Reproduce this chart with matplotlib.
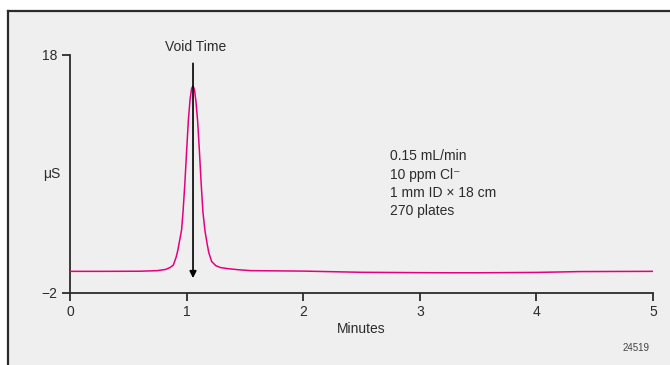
import matplotlib.pyplot as plt
from matplotlib.lines import Line2D
from matplotlib.patches import Rectangle

plt.rcParams['font.family'] = ['Liberation Sans Narrow', 'Liberation Sans', 'DejaVu Sans']

# trace
minutes = [0.00, 0.30, 0.60, 0.75, 0.82, 0.86, 0.886, 0.91, 0.925, 0.94, 0.957,
           0.97, 0.985, 1.00, 1.015, 1.03, 1.043, 1.055, 1.067, 1.08, 1.095,
           1.11, 1.125, 1.14, 1.158, 1.175, 1.19, 1.215, 1.25, 1.29, 1.35,
           1.45, 1.55, 2.00, 2.50, 3.00, 3.25, 3.50, 4.00, 4.37, 4.70, 5.00]
signal = [-0.18, -0.18, -0.17, -0.12, -0.02, 0.15, 0.35, 1.0, 1.6, 2.4, 3.3,
          4.9, 7.2, 9.9, 12.5, 14.3, 15.2, 15.4, 15.1, 14.1, 12.4,
          9.9, 7.2, 4.8, 3.2, 2.2, 1.4, 0.65, 0.3, 0.14, 0.05,
          -0.05, -0.12, -0.16, -0.26, -0.29, -0.30, -0.30, -0.27, -0.20, -0.19, -0.18]

void_time = 1.055
notes = ['0.15 mL/min', '10 ppm Cl\u207b', '1 mm ID \u00d7 18 cm', '270 plates']
x_ticks = [0, 1, 2, 3, 4, 5]
y_ticks = [-2, 18]

dark = '#2b2b2b'
fig = plt.figure(figsize=(6.7, 3.65), dpi=100, facecolor='white')

# grey panel with top/left rule
fig.patches.append(Rectangle((8 / 670, 0), 1, 1 - 11 / 365, transform=fig.transFigure,
                             facecolor='#efefef', edgecolor='none', zorder=-5))
fig.lines.append(Line2D([8 / 670, 1], [1 - 11 / 365] * 2, transform=fig.transFigure,
                        color=dark, lw=1.6, zorder=-4))
fig.lines.append(Line2D([8 / 670] * 2, [0, 1 - 11 / 365], transform=fig.transFigure,
                        color=dark, lw=1.6, zorder=-4))

ax = fig.add_axes([70 / 670, 1 - 293 / 365, 583 / 670, 238 / 365])
ax.set_facecolor('none')
ax.plot(minutes, signal, color='#e6007e', lw=1.1, zorder=3)

ax.set_xlim(0, 5)
ax.set_ylim(-2, 18)
ax.set_xticks(x_ticks)
ax.set_yticks(y_ticks)
ax.set_yticklabels(['\u22122', '18'])
for s in ['top', 'right']:
    ax.spines[s].set_visible(False)
for s in ['left', 'bottom']:
    ax.spines[s].set_color(dark)
    ax.spines[s].set_linewidth(1.3)
ax.tick_params(colors=dark, width=1.3, length=6, labelsize=10, pad=3)

ax.set_xlabel('Minutes', fontsize=10, color=dark, labelpad=2)
ax.text(-0.155, 8, '\u03bcS', fontsize=10, color=dark, ha='center', va='center')

# void time marker
ax.annotate('', xy=(void_time, -0.75), xytext=(void_time, 17.3),
            arrowprops=dict(arrowstyle='-|>', color='black', lw=1.2,
                            mutation_scale=10, shrinkA=0, shrinkB=0), zorder=4)
ax.text(void_time + 0.02, 18.1, 'Void Time', fontsize=10, color=dark,
        ha='center', va='bottom')

for i, line in enumerate(notes):
    ax.text(2.745, 9.5 - i * 1.55, line, fontsize=10, color=dark, ha='left', va='center')

fig.text(636 / 670, 1 - 348 / 365, '24519', fontsize=7, color='#444444',
         ha='center', va='center')

fig.savefig('out.png', dpi=100, facecolor=fig.get_facecolor())
